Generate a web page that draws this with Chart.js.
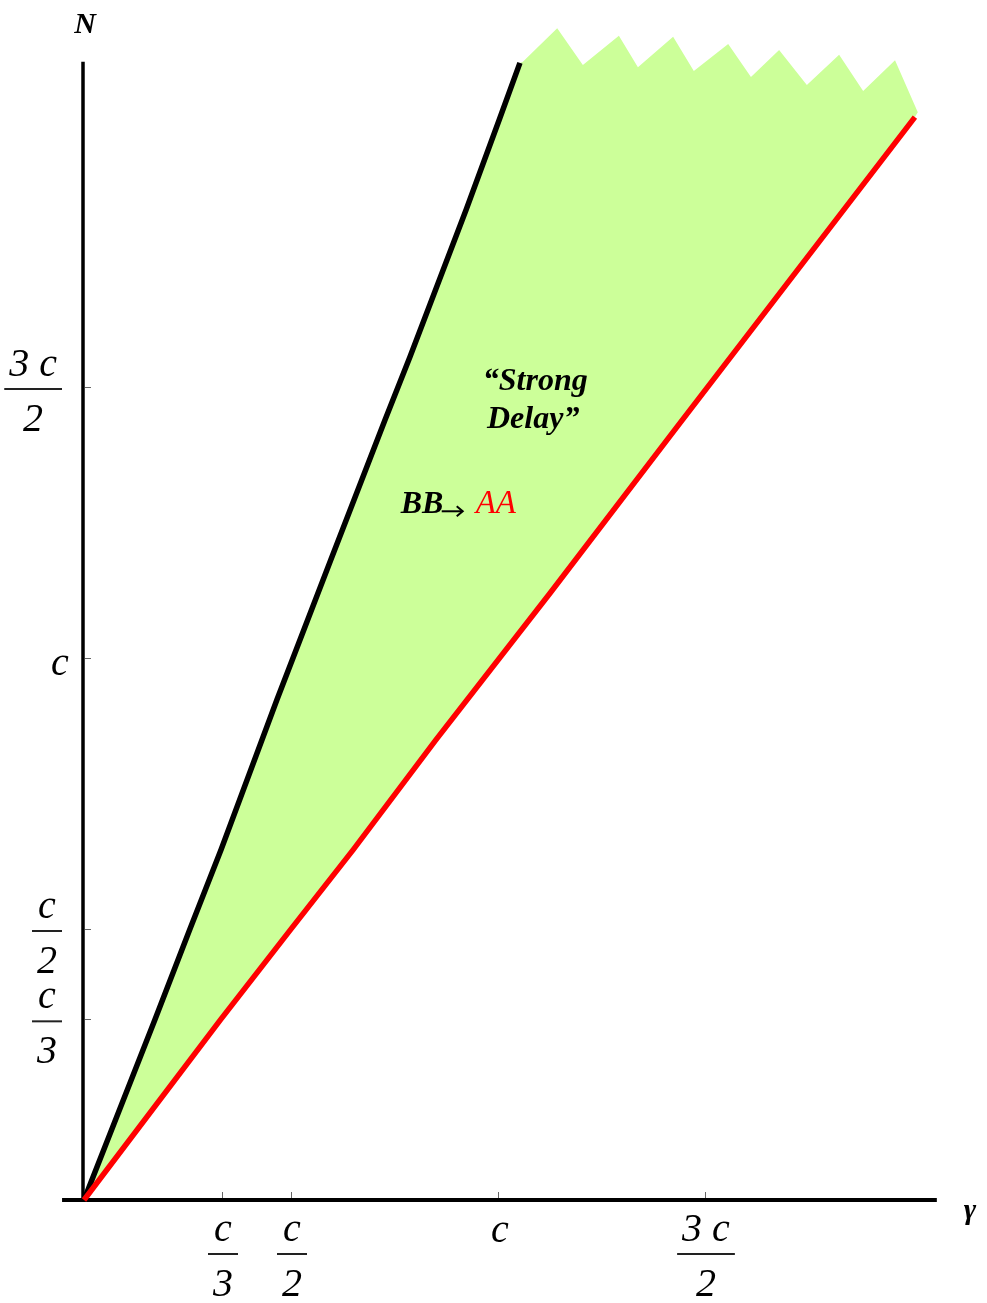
<!DOCTYPE html>
<html>
<head>
<meta charset="utf-8">
<script src="https://cdn.jsdelivr.net/npm/chart.js@4.4.1/dist/chart.umd.min.js"></script>
<style>
  html, body { margin: 0; padding: 0; background: #fff; }
  #wrap { width: 987px; height: 1303px; position: relative; }
</style>
</head>
<body>
<div id="wrap"><canvas id="chart"></canvas></div>
<script>
// all values in units of c
const blackGamma = [0, 0.171, 0.255, 0.331, 0.466, 0.596, 0.727, 0.787, 0.923, 1.003, 1.053];
const blackN     = [0, 0.332, 0.498, 0.646, 0.923, 1.181, 1.439, 1.555, 1.827, 1.993, 2.098];

const redGamma = [0, 0.329, 0.498, 0.650, 0.850, 1.126, 1.432, 2.007];
const redN     = [0, 0.332, 0.498, 0.646, 0.849, 1.120, 1.426, 1.998];

// jagged upper edge of the shaded region (left to right)
const topGamma = [1.060, 1.143, 1.205, 1.292, 1.338, 1.423, 1.473, 1.556, 1.611, 1.679, 1.746, 1.824, 1.882, 1.959, 2.014];
const topN     = [2.100, 2.162, 2.094, 2.148, 2.090, 2.146, 2.083, 2.133, 2.072, 2.122, 2.057, 2.113, 2.046, 2.103, 2.007];

const xTickVals = [1 / 3, 1 / 2, 1, 3 / 2];
const xTickNum  = ["c", "c", "c", "3 c"];
const xTickDen  = ["3", "2", "", "2"];

const yTickVals = [1 / 3, 1 / 2, 1, 3 / 2];
const yTickNum  = ["c", "c", "c", "3 c"];
const yTickDen  = ["3", "2", "", "2"];

const xAxisRange = [-0.053, 2.06];
const yAxisRange = [0, 2.1];

const pts = (xs, ys) => xs.map((v, i) => ({ x: v, y: ys[i] }));
const blackPts = pts(blackGamma, blackN);
const redPts = pts(redGamma, redN);
const regionPts = [...blackPts, ...pts(topGamma, topN), ...redPts.slice().reverse()];

const SERIF = '"Liberation Serif", "DejaVu Serif", serif';

const axesPlugin = {
  id: "axes",
  beforeDatasetsDraw(chart) {
    const { ctx, scales: { x, y } } = chart;
    const x0 = x.getPixelForValue(0);
    const y0 = y.getPixelForValue(0);
    ctx.save();
    ctx.strokeStyle = "#000";
    ctx.lineWidth = 4;
    ctx.beginPath();
    ctx.moveTo(x.getPixelForValue(xAxisRange[0]), y0);
    ctx.lineTo(x.getPixelForValue(xAxisRange[1]), y0);
    ctx.stroke();
    ctx.lineWidth = 3.5;
    ctx.beginPath();
    ctx.moveTo(x0 - 1, y0 + 2);
    ctx.lineTo(x0 - 1, y.getPixelForValue(yAxisRange[1]));
    ctx.stroke();

    // small tick marks
    ctx.strokeStyle = "#666";
    ctx.lineWidth = 1;
    xTickVals.forEach(v => {
      const px = Math.round(x.getPixelForValue(v)) + 0.5;
      ctx.beginPath(); ctx.moveTo(px, y0 - 2); ctx.lineTo(px, y0 - 8); ctx.stroke();
    });
    yTickVals.forEach(v => {
      const py = Math.round(y.getPixelForValue(v)) + 0.5;
      ctx.beginPath(); ctx.moveTo(x0 + 1, py); ctx.lineTo(x0 + 7, py); ctx.stroke();
    });
    ctx.restore();
  },
  afterDraw(chart) {
    const { ctx, scales: { x, y } } = chart;
    const x0 = x.getPixelForValue(0);
    const y0 = y.getPixelForValue(0);
    ctx.save();
    ctx.fillStyle = "#000";
    ctx.textBaseline = "alphabetic";
    ctx.font = "italic 40px " + SERIF;

    const fraction = (cx, bar, num, den) => {
      const w = Math.max(ctx.measureText(num).width, ctx.measureText(den).width) + 10;
      ctx.textAlign = "center";
      ctx.fillText(num, cx, bar - 13);
      ctx.fillText(den, cx, bar + 42);
      ctx.strokeStyle = "#222";
      ctx.lineWidth = 2;
      ctx.beginPath(); ctx.moveTo(cx - w / 2, bar); ctx.lineTo(cx + w / 2, bar); ctx.stroke();
    };

    // x tick labels
    xTickVals.forEach((v, i) => {
      const px = x.getPixelForValue(v);
      if (!xTickDen[i]) {
        ctx.textAlign = "center";
        ctx.fillText(xTickNum[i], px + 2, y0 + 42);
      } else {
        fraction(px + 1, y0 + 54, xTickNum[i], xTickDen[i]);
      }
    });

    // y tick labels
    yTickVals.forEach((v, i) => {
      const py = y.getPixelForValue(v);
      if (!yTickDen[i]) {
        ctx.textAlign = "center";
        ctx.fillText(yTickNum[i], 60, py + 17);
      } else {
        const w = Math.max(ctx.measureText(yTickNum[i]).width, ctx.measureText(yTickDen[i]).width) + 10;
        fraction(x0 - 22 - w / 2, py + 2, yTickNum[i], yTickDen[i]);
      }
    });

    // axis names
    ctx.textAlign = "center";
    ctx.font = "bold italic 30px " + SERIF;
    ctx.fillText("N", x0 + 1, 33);
    ctx.fillText("\u03b3", 970, y0 + 19);

    // region annotations
    ctx.font = "bold italic 32px " + SERIF;
    ctx.fillText("\u201cStrong", x.getPixelForValue(1.09), y.getPixelForValue(1.494));
    ctx.fillText("Delay\u201d", x.getPixelForValue(1.085), y.getPixelForValue(1.424));

    const bx = x.getPixelForValue(0.765);
    const by = y.getPixelForValue(1.267);
    ctx.textAlign = "left";
    ctx.fillText("BB", bx, by);
    // small arrow
    const ax = bx + 41, ay = by - 2;
    ctx.strokeStyle = "#000";
    ctx.lineWidth = 2;
    ctx.beginPath(); ctx.moveTo(ax, ay); ctx.lineTo(ax + 20, ay); ctx.stroke();
    ctx.beginPath(); ctx.moveTo(ax + 15, ay - 5); ctx.lineTo(ax + 21, ay); ctx.lineTo(ax + 15, ay + 5); ctx.stroke();
    ctx.fillStyle = "#ff0000";
    ctx.font = "italic 33px " + SERIF;
    ctx.fillText("AA", bx + 75, by);
    ctx.restore();
  }
};

new Chart(document.getElementById("chart"), {
  type: "line",
  data: {
    datasets: [
      {
        label: "region",
        data: regionPts,
        borderColor: "transparent",
        borderWidth: 0,
        backgroundColor: "#ccff99",
        fill: "shape",
        pointRadius: 0,
        order: 3,
      },
      {
        label: "black",
        data: blackPts,
        borderColor: "#000",
        borderWidth: 5.5,
        fill: false,
        pointRadius: 0,
        order: 2,
      },
      {
        label: "red",
        data: redPts,
        borderColor: "#ff0000",
        borderWidth: 5.5,
        fill: false,
        pointRadius: 0,
        order: 1,
      },
    ],
  },
  options: {
    responsive: true,
    maintainAspectRatio: false,
    animation: false,
    layout: { padding: 0 },
    plugins: { legend: { display: false }, tooltip: { enabled: false } },
    scales: {
      x: { type: "linear", display: false, min: -84 / 414, max: 903 / 414 },
      y: { type: "linear", display: false, min: -103 / 542, max: 1200 / 542 },
    },
  },
  plugins: [axesPlugin],
});
</script>
</body>
</html>
